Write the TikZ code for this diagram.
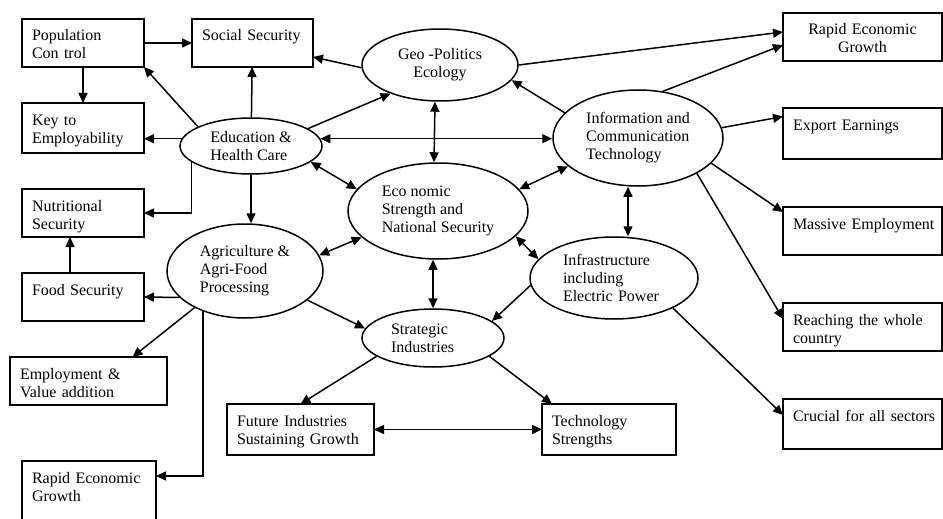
\documentclass[tikz,border=0pt]{standalone}
\usepackage{fontspec}
\setmainfont{Liberation Serif}
\usetikzlibrary{shapes.geometric, arrows.meta}

\begin{document}
\begin{tikzpicture}
      [x=1pt, y=-1pt, font=\fontsize{16}{18}\selectfont, line width=1.5pt,
       >={Triangle[length=10pt, width=9pt]},
       box/.style={draw, rectangle, line width=1.8pt, anchor=north west, outer sep=0pt,
         inner xsep=10pt, inner ysep=8pt, text height=14pt, text depth=18pt,
         align=left, text width=#1},
       ell/.style 2 args={draw, ellipse, inner sep=0pt, align=left,
         minimum width=#1, minimum height=#2}]
      \useasboundingbox (0, 0) rectangle (943, 519);
      \clip (0, 0) rectangle (943, 519);
      \node[box=102pt](1) at (22, 19) {Population\\Con trol};
      \node[box=101pt](2) at (192, 19) {Social Security};
      \node[box=102pt, text depth=20pt](3) at (22, 103) {Key to\\Employability};
      \node[box=102pt](4) at (22, 189) {Nutritional\\Security};
      \node[box=102pt](5) at (22, 273) {Food Security};
      \node[box=137pt](6) at (10, 357) {Employment \&\\Value addition};
      \node[box=114pt, text depth=70pt](7) at (22, 461) {Rapid Economic\\Growth};
      \node[box=127pt, text depth=21pt](8) at (227, 404) {Future Industries\\Sustaining Growth};
      \node[box=114pt, text depth=21pt](9) at (542, 404) {Technology\\Strengths};
      \node[box=139pt, align=center](10) at (783, 13) {Rapid Economic\\Growth};
      \node[box=139pt, text depth=21pt](11) at (783, 108) {Export Earnings};
      \node[box=139pt](12) at (783, 207) {\mbox{Massive Employment}};
      \node[box=139pt](13) at (783, 303) {Reaching the whole\\country};
      \node[box=139pt, text depth=20pt](14) at (783, 399) {\mbox{Crucial for all sectors}};
      \node[ell={142pt}{56pt}](15) at (251, 146) {Education \&\\Health Care};
      \node[ell={156pt}{72pt}, align=center](16) at (440, 65) {Geo -Politics\\Ecology};
      \node[ell={170pt}{96pt}](17) at (638, 138) {Information and\\Communication\\Technology};
      \node[ell={180pt}{96pt}](18) at (438, 211) {Eco nomic\\Strength and\\National Security};
      \node[ell={168pt}{82pt}, text width=102pt](19) at (614, 278) {Infrastructure\\including\\Electric Power};
      \node[ell={142pt}{58pt}, text width=84pt](20) at (433, 338) {Strategic\\Industries};
      \node[ell={156pt}{94pt}](21) at (245, 271) {Agriculture \&\\Agri-Food\\Processing};
      \draw[->](1) -- (2);
      \draw[->](1) -- (3);
      \draw[->](15.160) -- (1.south east);
      \draw[->](15) -- (2);
      \draw[->](15.174) -- (15.174 -| 3.east);
      \draw[->](15.195) |- (4);
      \draw[->](15) -- (15 |- 21.north);
      \draw[->](15.17) -- (16.210);
      \draw[<->](15.6) -- (15.6 -| 17.west);
      \draw[<->]([xshift=-5pt]16.south) -- ([xshift=-4pt]18.north);
      \draw[->](16.182) -- ([yshift=-14pt]2.east);
      \draw[->](16.east) -- ([yshift=5pt]10.west);
      \draw[->](17.62) -- ([yshift=-8pt]10.west);
      \draw[->](17.161) -- (16.348);
      \draw[<->](15.345) -- (18.165);
      \draw[<->](18.15) -- (17.202);
      \draw[->](17.7) -- ([yshift=17pt]11.west);
      \draw[->](17.341) -- ([yshift=-5pt]12.north west);
      \draw[->](17.329) -- ([yshift=8pt]13.west);
      \draw[<->]([xshift=-10pt]17.south) -- ([xshift=14pt]19.north);
      \draw[->](19.333) -- ([yshift=9pt]14.west);
      \draw[<->](18.342) -- (19.166);
      \draw[<->](21.12) -- (18.199);
      \draw[<->](20.north |- 18.south) -- (20.north);
      \draw[->](19.185) -- (20.16);
      \draw[->](21.335) -- (20.172);
      \draw[->](21.202) -- (5.east);
      \draw[->]([xshift=-13pt]5.north) -- ([xshift=-13pt]4.south);
      \draw[->](21.216) -- ([xshift=44pt]6.north);
      \draw[->](21.224) |- ([yshift=-15pt]7.north east);
      \draw[->](20.198) -- (8.north);
      \draw[->](20.342) -- ([xshift=10pt]9.north west);
      \draw[<->](8) -- (9);
\end{tikzpicture}
\end{document}
